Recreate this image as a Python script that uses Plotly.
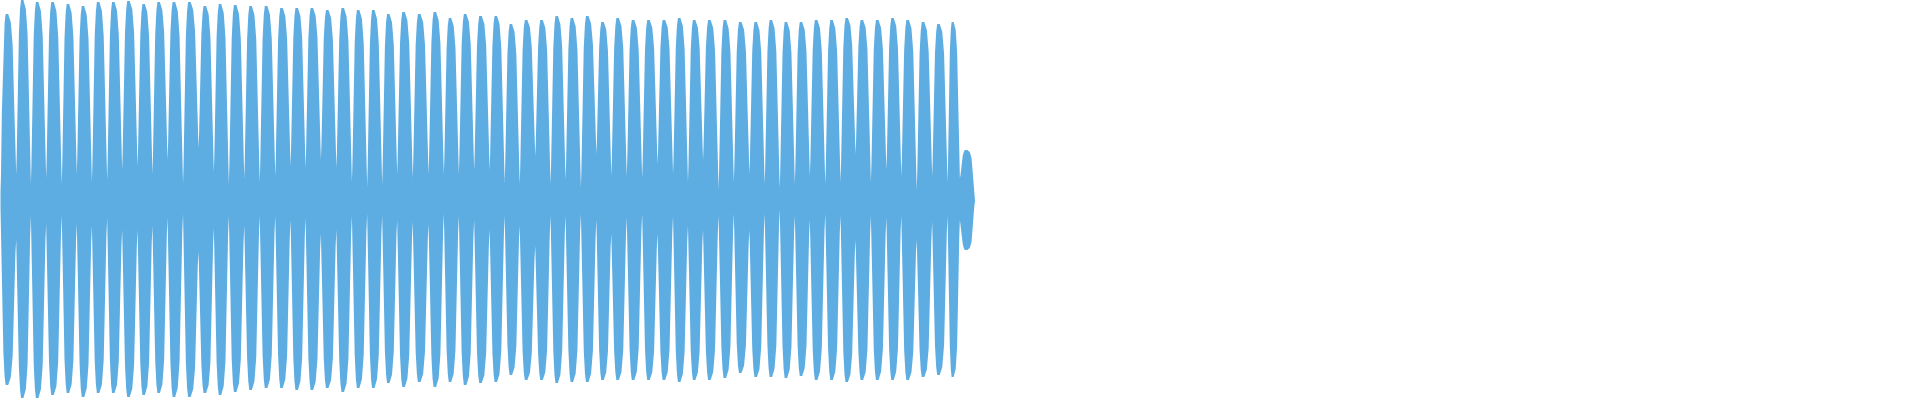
import plotly.graph_objects as go

# waveform, time axis in ms
t_start = 0.5
t_end = 975

# peak time of each pulse
pulse_t = [
    8.3, 21.7, 37.3, 52.3, 68.3, 82.7, 98.3, 113.3, 128.3, 144, 158.3,
    174, 189.3, 205, 220, 235, 250.7, 266, 281.7, 296.7, 311.7,
    327.3, 342.7, 358.3, 373.3, 388.3, 403.3, 419.3, 435, 450, 465,
    480.5, 496, 510.7, 526, 541.7, 556.7, 571.7, 587.3, 602.7, 617.3, 633.3,
    648.3, 664, 679.3, 694, 709.3, 725, 740, 756, 770.7, 786,
    801, 816, 831.7, 846.7, 861.7, 877.3, 892.7, 907.3, 923.3, 938.3, 954, 964,
]
# positive peak of each pulse
pulse_top = [
    0.93, 1.0, 0.99, 0.99, 0.98, 0.97, 0.99, 0.99, 0.995, 0.98, 0.99,
    0.99, 0.99, 0.97, 0.98, 0.975, 0.97, 0.97, 0.96, 0.96, 0.96,
    0.95, 0.96, 0.95, 0.95, 0.93, 0.94, 0.93, 0.94, 0.91, 0.93,
    0.92, 0.92, 0.88, 0.90, 0.90, 0.92, 0.91, 0.92, 0.89, 0.91, 0.90,
    0.90, 0.90, 0.91, 0.90, 0.90, 0.90, 0.89, 0.89, 0.90, 0.89,
    0.89, 0.90, 0.90, 0.91, 0.90, 0.90, 0.91, 0.90, 0.89, 0.88, 0.89, 0.25,
]
# negative peak of each pulse
pulse_bot = [
    -0.925, -0.99, -0.99, -0.975, -0.965, -0.985, -0.965, -0.965, -0.985, -0.975, -0.965,
    -0.985, -0.985, -0.965, -0.975, -0.96, -0.95, -0.94, -0.94, -0.95, -0.95,
    -0.94, -0.96, -0.94, -0.94, -0.915, -0.935, -0.91, -0.935, -0.91, -0.925,
    -0.915, -0.91, -0.875, -0.90, -0.90, -0.915, -0.91, -0.91, -0.90, -0.90, -0.90,
    -0.90, -0.90, -0.91, -0.90, -0.90, -0.89, -0.865, -0.885, -0.885, -0.89,
    -0.88, -0.90, -0.90, -0.91, -0.90, -0.90, -0.90, -0.90, -0.885, -0.875, -0.885, -0.25,
]
# level between pulses (start, 63 gaps, end)
floor_top = [
    0.04,
    0.13, 0.08, 0.11, 0.08, 0.13, 0.09, 0.10, 0.15, 0.17, 0.13,
    0.20, 0.08, 0.26, 0.14, 0.08, 0.11, 0.09, 0.12, 0.17, 0.16, 0.20,
    0.16, 0.09, 0.07, 0.08, 0.13, 0.11, 0.13, 0.13, 0.13, 0.15,
    0.15, 0.09, 0.08, 0.22, 0.08, 0.10, 0.06, 0.23, 0.12, 0.12, 0.11,
    0.18, 0.13, 0.09, 0.20, 0.06, 0.09, 0.13, 0.08, 0.06, 0.08,
    0.12, 0.08, 0.09, 0.23, 0.09, 0.15, 0.12, 0.05, 0.12, 0.09, 0.11,
    0.005,
]
floor_bot = [
    -0.04,
    -0.20, -0.08, -0.12, -0.08, -0.12, -0.13, -0.09, -0.15, -0.15, -0.13,
    -0.09, -0.07, -0.26, -0.14, -0.08, -0.13, -0.08, -0.08, -0.10, -0.09, -0.17,
    -0.15, -0.08, -0.07, -0.08, -0.10, -0.11, -0.12, -0.07, -0.08, -0.10,
    -0.15, -0.08, -0.13, -0.23, -0.08, -0.08, -0.07, -0.10, -0.17, -0.09, -0.07,
    -0.17, -0.08, -0.13, -0.15, -0.08, -0.07, -0.15, -0.07, -0.05, -0.08,
    -0.10, -0.07, -0.08, -0.20, -0.08, -0.09, -0.08, -0.20, -0.11, -0.08, -0.10,
    -0.005,
]
# shape of one pulse, valley to valley (steep attack, slower decay)
lobe_phase = [0, 0.033, 0.085, 0.184, 0.262, 0.328, 0.49, 0.656, 0.774, 0.872, 0.951, 1.0]
lobe_level = [0, 0.1, 0.44, 0.81, 0.95, 1.0, 1.0, 0.95, 0.81, 0.44, 0.1, 0]
peak_phase = 0.41

color = "#5DADE2"


def valleys():
    v = [t_start]
    for i in range(len(pulse_t) - 1):
        v.append(pulse_t[i] + (1 - peak_phase) * (pulse_t[i + 1] - pulse_t[i]))
    v.append(t_end)
    return v


def envelope(peaks, floors):
    v = valleys()
    xs, ys = [], []
    for i, pk in enumerate(peaks):
        a, b = v[i], v[i + 1]
        fl, fr = floors[i], floors[i + 1]
        for ph, lv in zip(lobe_phase, lobe_level):
            if i > 0 and ph == 0:
                continue
            base = fl + (fr - fl) * ph
            xs.append(a + (b - a) * ph)
            ys.append(base + lv * (pk - base))
    return xs, ys


tx, ty = envelope(pulse_top, floor_top)
bx, by = envelope(pulse_bot, floor_bot)

fig = go.Figure()
fig.add_trace(
    go.Scatter(
        x=tx + bx[::-1],
        y=ty + by[::-1],
        fill="toself",
        fillcolor=color,
        line=dict(width=0, color=color),
        mode="lines",
        hoverinfo="skip",
    )
)
fig.update_layout(
    width=1920,
    height=400,
    margin=dict(l=0, r=0, t=0, b=0),
    paper_bgcolor="white",
    plot_bgcolor="white",
    showlegend=False,
    xaxis=dict(range=[0, 1920], visible=False, fixedrange=True),
    yaxis=dict(range=[-1, 1], visible=False, fixedrange=True),
)
# drop the default page margin so the plot sits at the window corner
fig.write_html(
    "out.html",
    config={"displayModeBar": False, "staticPlot": True},
    post_script="document.body.style.margin='0';",
)
